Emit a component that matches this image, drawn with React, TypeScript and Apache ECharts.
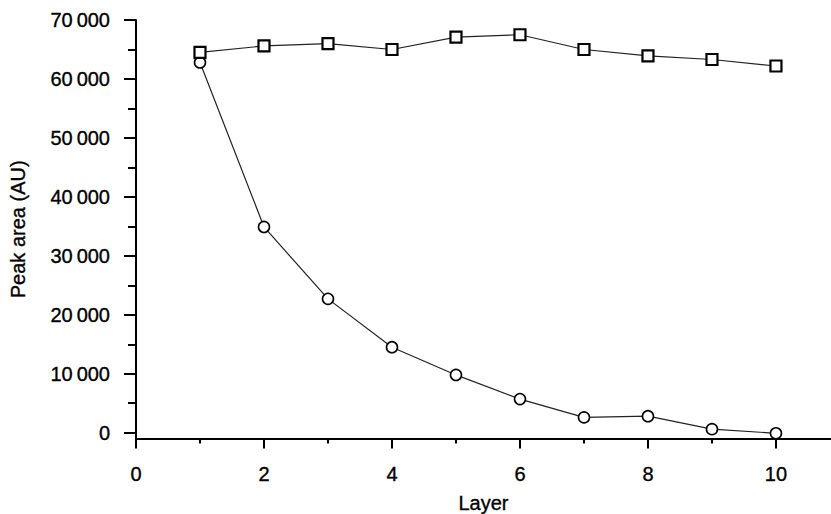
import React, { useEffect, useRef } from "react";
import * as echarts from "echarts";

const layers = [1, 2, 3, 4, 5, 6, 7, 8, 9, 10];
const squareValues = [64500, 65600, 66000, 65000, 67100, 67500, 65000, 63900, 63300, 62200];
const circleValues = [62800, 34900, 22700, 14500, 9800, 5700, 2600, 2800, 600, -100];
const yMajorTicks = [0, 10000, 20000, 30000, 40000, 50000, 60000, 70000];
const yMinorTicks = [5000, 15000, 25000, 35000, 45000, 55000, 65000];
const xMajorTicks = [0, 2, 4, 6, 8, 10];
const xMinorTicks = [1, 3, 5, 7, 9];

const FONT = "'Liberation Sans', Arial, sans-serif";
const textExtra = { textBorderColor: "#000", textBorderWidth: 0.35 };

export default function App() {
  const ref = useRef<HTMLDivElement>(null);
  useEffect(() => {
    if (!ref.current) return;
    const chart = echarts.init(ref.current, null, { renderer: "svg" });
    const fmt = (v: number) => {
      const s = String(Math.round(v));
      if (s.length > 3) return s.slice(0, s.length - 3) + "\u2009" + s.slice(s.length - 3);
      return s;
    };
    const axisLineStyle = { color: "#000", width: 2 };
    chart.setOption({
      animation: false,
      backgroundColor: "#fff",
      textStyle: { fontFamily: FONT },
      grid: { left: 136, right: 0, top: 20, bottom: 75.4, containLabel: false, outerBoundsMode: "none" },
      xAxis: [
        {
          type: "value",
          min: 0,
          max: 10.86,
          name: "Layer",
          nameLocation: "middle",
          nameGap: 54,
          nameTextStyle: { color: "#000", fontSize: 20, fontFamily: FONT, ...textExtra },
          axisLine: { show: true, onZero: false, lineStyle: axisLineStyle },
          axisTick: { show: true, customValues: xMajorTicks, length: 10, lineStyle: { color: "#000", width: 2 } },
          axisLabel: { customValues: xMajorTicks, color: "#000", fontSize: 20, fontFamily: FONT, margin: 25, ...textExtra },
          splitLine: { show: false },
        },
        {
          type: "value",
          min: 0,
          max: 10.86,
          position: "bottom",
          axisLine: { show: false, onZero: false },
          axisTick: { show: true, customValues: xMinorTicks, length: 5, lineStyle: { color: "#000", width: 2 } },
          axisLabel: { show: false },
          splitLine: { show: false },
        },
      ],
      yAxis: [
        {
          type: "value",
          min: -1000,
          max: 70000,
          name: "Peak area (AU)",
          nameLocation: "middle",
          nameGap: 108,
          nameRotate: 90,
          nameTextStyle: { color: "#000", fontSize: 20, fontFamily: FONT, ...textExtra },
          axisLine: { show: true, onZero: false, lineStyle: axisLineStyle },
          axisTick: { show: true, customValues: yMajorTicks, length: 12, lineStyle: { color: "#000", width: 2 } },
          axisLabel: { customValues: yMajorTicks, color: "#000", fontSize: 20, fontFamily: FONT, margin: 26, formatter: fmt, ...textExtra },
          splitLine: { show: false },
        },
        {
          type: "value",
          min: -1000,
          max: 70000,
          position: "left",
          axisLine: { show: false, onZero: false },
          axisTick: { show: true, customValues: yMinorTicks, length: 8, lineStyle: { color: "#000", width: 2 } },
          axisLabel: { show: false },
          splitLine: { show: false },
        },
      ],
      series: [
        {
          type: "line",
          data: layers.map((x, i) => [x, circleValues[i]]),
          symbol: "circle",
          symbolSize: 11,
          lineStyle: { color: "#222", width: 1.2 },
          itemStyle: { color: "#fff", borderColor: "#000", borderWidth: 1.6 },
          z: 2,
        },
        {
          type: "line",
          data: layers.map((x, i) => [x, squareValues[i]]),
          symbol: "rect",
          symbolSize: 11,
          lineStyle: { color: "#222", width: 1.2 },
          itemStyle: { color: "#fff", borderColor: "#000", borderWidth: 2.2 },
          z: 3,
        },
      ],
    });
    return () => chart.dispose();
  }, []);
  return (
    <div
      ref={ref}
      style={{ position: "absolute", left: 0, top: 0, width: 831, height: 514, background: "#fff" }}
    />
  );
}
